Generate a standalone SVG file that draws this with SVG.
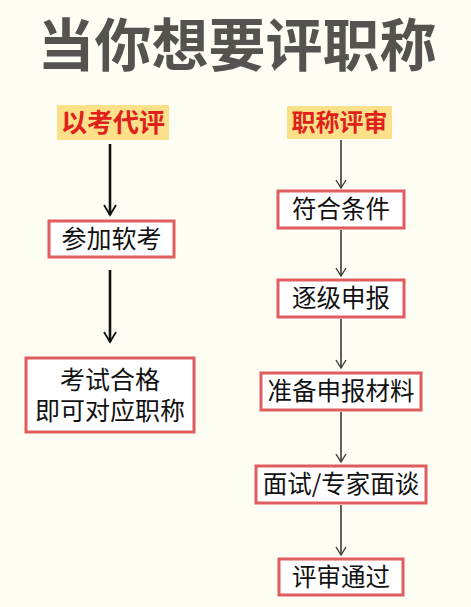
<svg xmlns="http://www.w3.org/2000/svg" width="471" height="607" viewBox="0 0 471 607">
<defs>
<style>
.bg{fill:#fdfdf4}
.title{font-family:"Noto Sans CJK SC","Noto Sans",sans-serif;font-weight:700;font-size:57px;fill:#555350}
.hl{fill:#fbe08a}
.hlt{font-family:"Noto Sans CJK SC",sans-serif;font-weight:700;fill:#e0201a}
.box{fill:#ffffff;stroke:#e05c5f;stroke-width:3}
.bt{font-family:"Noto Sans CJK SC",sans-serif;font-size:24.5px;fill:#111111}
.la{stroke:#111;stroke-width:2.6;fill:none}
.ra{stroke:#3a3a3a;stroke-width:1.6;fill:none}
</style>
<marker id="ahL" markerWidth="14" markerHeight="14" refX="12" refY="7" orient="auto" markerUnits="userSpaceOnUse" viewBox="0 0 14 14">
<path d="M2,1 L12,7 L2,13" fill="none" stroke="#111" stroke-width="1.8"/>
</marker>
<marker id="ahR" markerWidth="12" markerHeight="12" refX="10" refY="6" orient="auto" markerUnits="userSpaceOnUse" viewBox="0 0 12 12">
<path d="M2,1 L10,6 L2,11" fill="none" stroke="#3a3a3a" stroke-width="1.4"/>
</marker>
</defs>
<rect class="bg" x="0" y="0" width="471" height="607"/>
<text class="title" x="237" y="66" text-anchor="middle">当你想要评职称</text>

<g id="connectors">
<path class="la" d="M110,144 V215" marker-end="url(#ahL)"/>
<path class="la" d="M110,270 V342" marker-end="url(#ahL)"/>
<path class="ra" d="M341,140 V188" marker-end="url(#ahR)"/>
<path class="ra" d="M341,230 V276" marker-end="url(#ahR)"/>
<path class="ra" d="M341,319 V368" marker-end="url(#ahR)"/>
<path class="ra" d="M341,412 V462" marker-end="url(#ahR)"/>
<path class="ra" d="M341,505 V555" marker-end="url(#ahR)"/>
</g>

<g id="n-yikao">
<rect class="hl" x="57" y="105" width="112" height="35"/>
<text class="hlt" x="113" y="132" text-anchor="middle" font-size="26">以考代评</text>
</g>
<g id="n-canjia">
<rect class="box" x="49" y="221" width="125" height="36"/>
<text class="bt" x="111.5" y="248" text-anchor="middle" style="font-size:25px">参加软考</text>
</g>
<g id="n-kaoshi">
<rect class="box" x="26" y="358" width="168" height="74"/>
<text class="bt" text-anchor="middle" style="font-size:25px"><tspan x="110" y="389">考试合格</tspan><tspan x="110" y="420">即可对应职称</tspan></text>
</g>

<g id="n-zhicheng">
<rect class="hl" x="287" y="106" width="105" height="33"/>
<text class="hlt" x="339.5" y="131" text-anchor="middle" font-size="24">职称评审</text>
</g>
<g id="n-fuhe">
<rect class="box" x="278" y="191" width="126" height="37"/>
<text class="bt" x="341" y="218" text-anchor="middle">符合条件</text>
</g>
<g id="n-zhuji">
<rect class="box" x="278" y="280" width="126" height="37"/>
<text class="bt" x="341" y="307" text-anchor="middle">逐级申报</text>
</g>
<g id="n-zhunbei">
<rect class="box" x="261" y="373" width="160" height="37"/>
<text class="bt" x="341" y="400" text-anchor="middle">准备申报材料</text>
</g>
<g id="n-mianshi">
<rect class="box" x="256" y="466" width="170" height="37"/>
<text class="bt" x="341" y="493" text-anchor="middle">面试/专家面谈</text>
</g>
<g id="n-pingshen">
<rect class="box" x="279" y="559" width="124" height="36"/>
<text class="bt" x="341" y="586" text-anchor="middle">评审通过</text>
</g>
</svg>
